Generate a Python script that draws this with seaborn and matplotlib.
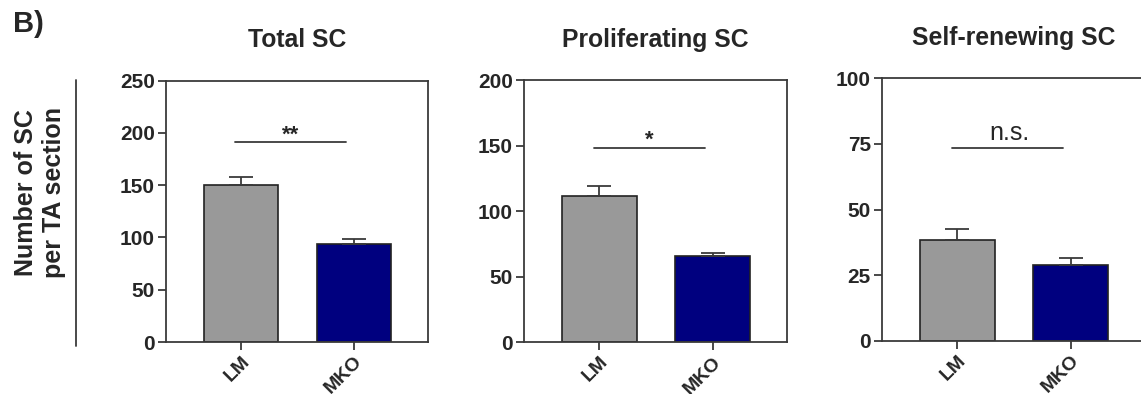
import numpy as np
import pandas as pd
import seaborn as sns
from matplotlib import pyplot as plt
from matplotlib.lines import Line2D

groups = ["LM", "MKO"]
titles = ["Total SC", "Proliferating SC", "Self-renewing SC"]

total_mean = [150, 94]
total_sem = [8, 5]
prolif_mean = [111.5, 65.5]
prolif_sem = [7.6, 2.7]
selfrenew_mean = [38.5, 28.7]
selfrenew_sem = [4.0, 2.8]

sig_labels = ["**", "*", "n.s."]
sig_heights = [191, 148.5, 73.5]
y_max = [250, 200, 100]
y_step = [50, 50, 25]

bar_colors = ["#999999", "#00007f"]
line_col = "#3a3a3a"

sns.set_style("ticks")
plt.rcParams["font.family"] = ["Liberation Sans", "DejaVu Sans"]
plt.rcParams["font.weight"] = "bold"

fig = plt.figure(figsize=(11.41, 3.94), dpi=100)

W, H = 1141, 394
# axes boxes in pixels: left, top, right, bottom
boxes = [(166, 80.7, 428, 342), (524, 80, 787, 342.3), (882, 78.3, 1145, 340.7)]

means = [total_mean, prolif_mean, selfrenew_mean]
sems = [total_sem, prolif_sem, selfrenew_sem]

for i in range(3):
  l, t, r, b = boxes[i]
  ax = fig.add_axes([l / W, 1 - b / H, (r - l) / W, (b - t) / H])
  df = pd.DataFrame({"group": groups, "value": means[i]})
  sns.barplot(data=df, x="group", y="value", hue="group", palette=bar_colors,
              saturation=1, errorbar=None, width=0.66, edgecolor="#222222",
              linewidth=1.2, legend=False, ax=ax)
  ax.errorbar(x=[0, 1], y=means[i], yerr=[[0, 0], sems[i]], fmt="none",
              ecolor=line_col, elinewidth=1.3, capsize=8.3, capthick=1.3, zorder=3)

  ax.set_xlim(-0.664, 1.655)
  ax.set_ylim(0, y_max[i])
  ax.set_yticks(np.arange(0, y_max[i] + 1, y_step[i]))
  ax.set_xlabel(None)
  ax.set_ylabel(None)

  for s in ax.spines.values():
    s.set_visible(True)
    s.set_color(line_col)
    s.set_linewidth(1.3)
  ax.tick_params(direction="out", length=6, width=1.3, color=line_col, pad=2)
  ax.tick_params(axis="y", labelsize=15)
  ax.set_xticks([0, 1])
  ax.set_xticklabels(groups, rotation=45, ha="right", rotation_mode="anchor", fontsize=14)

  ax.set_title(titles[i], fontsize=17.8, fontweight="bold", pad=24)

  # significance bar
  h = sig_heights[i]
  ax.plot([-0.05, 0.93], [h, h], color=line_col, lw=1.3)
  if sig_labels[i] == "n.s.":
    ax.annotate(sig_labels[i], xy=(0.46, h), xytext=(0, 5.5), textcoords="offset points",
                ha="center", va="baseline", fontsize=18, fontweight="normal")
  else:
    ax.annotate(sig_labels[i], xy=(0.44, h), xytext=(0, 1.5), textcoords="offset points",
                ha="center", va="baseline", fontsize=16, fontweight="bold")

fig.text(40 / W, 1 - 193 / H, "Number of SC\nper TA section", rotation=90,
         ha="center", va="center", fontsize=18, fontweight="bold")
fig.add_artist(Line2D([76 / W, 76 / W], [1 - 80 / H, 1 - 346 / H], color=line_col, lw=1.3))
fig.text(13 / W, 1 - 10 / H, "B)", ha="left", va="top", fontsize=21, fontweight="bold")

plt.savefig("out.png", dpi=100)
